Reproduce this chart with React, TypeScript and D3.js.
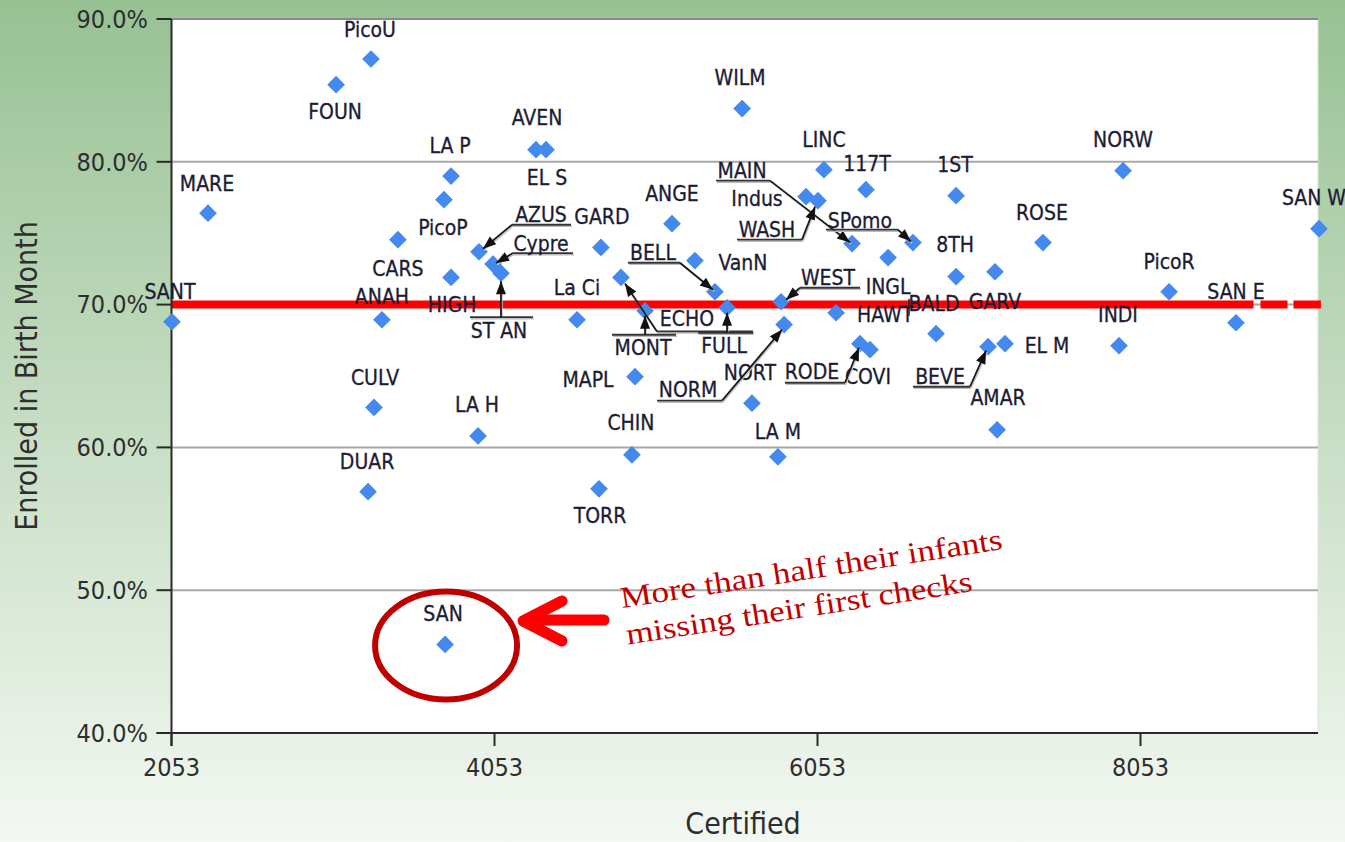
import React from 'react';
import * as d3 from 'd3';

// ---------------- data ----------------
const names = [
  'SANT', 'MARE', 'FOUN', 'PicoU', 'LA P', 'PicoP', 'CARS', 'ANAH', 'HIGH', 'CULV',
  'DUAR', 'LA H', 'SAN', 'AVEN', 'EL S', 'AZUS', 'Cypre', 'ST AN', 'La Ci', 'GARD',
  'ANGE', 'ECHO', 'MONT', 'BELL', 'FULL', 'VanN', 'WILM', 'MAPL', 'CHIN', 'TORR',
  'NORT', 'LA M', 'NORM', 'WEST', 'HAWT', 'INGL', 'LINC', '117T', 'MAIN', 'Indus',
  'WASH', 'SPomo', '8TH', '1ST', 'BALD', 'GARV', 'ROSE', 'NORW', 'PicoR', 'SAN E',
  'INDI', 'SAN W', 'EL M', 'BEVE', 'AMAR', 'RODE', 'COVI',
];
const certified = [
  2056, 2279, 3072, 3288, 3784, 3740, 3455, 3356, 3784, 3307,
  3270, 3951, 3747, 4310, 4372, 3957, 4044, 4093, 4564, 4712,
  5152, 4836, 4985, 5418, 5493, 5294, 5586, 4923, 4904, 4700,
  5647, 5808, 5846, 5827, 6168, 6490, 6093, 6353, 6267, 5982,
  6056, 6644, 6911, 6911, 6787, 7152, 7449, 7945, 8230, 8644,
  7920, 9158, 7214, 7109, 7165, 6316, 6378,
];
const enrolled = [
  68.8, 76.4, 85.4, 87.2, 79.0, 77.35, 74.55, 68.94, 71.9, 62.8,
  56.9, 60.8, 46.2, 80.85, 80.85, 73.7, 72.84, 72.2, 68.94, 74.0,
  75.67, 71.9, 69.57, 70.9, 69.78, 73.08, 83.73, 64.95, 59.48, 57.1,
  63.1, 59.34, 68.6, 70.2, 69.43, 73.29, 79.45, 78.05, 74.27, 77.56,
  77.28, 74.34, 71.96, 77.63, 67.96, 72.3, 74.34, 79.38, 70.9, 68.73,
  67.12, 75.32, 67.26, 67.05, 61.23, 67.26, 66.84,
];
const yTicks = [40, 50, 60, 70, 80, 90];
const xTicks = [2053, 4053, 6053, 8053];
const benchmark = 70;
const xDomain = [2053, 9152];
const yDomain = [40, 90];
const xTitle = 'Certified';
const yTitle = 'Enrolled in Birth Month';
const noteLines = ['More than half their infants', 'missing their first checks'];
const highlighted = 'SAN';

// ---------------- layout (pixel offsets of labels from their points) ----------------
const labelOffsets: Record<string, [number, number]> = {
  'SANT': [-2, -30], 'MARE': [-1, -30], 'FOUN': [-1, 27], 'PicoU': [-1, -30], 'LA P': [-1, -31],
  'PicoP': [-1, 28], 'CARS': [0, 29], 'ANAH': [0, -23], 'HIGH': [1, 27], 'CULV': [1, -30],
  'DUAR': [-1, -30], 'LA H': [-1, -32], 'SAN': [-2, -31], 'AVEN': [1, -32], 'EL S': [1, 28],
  'La Ci': [0, -32], 'GARD': [1, -31], 'ANGE': [0, -30], 'VanN': [48, 2], 'WILM': [-2, -31],
  'MAPL': [-47, 3], 'CHIN': [-1, -32], 'TORR': [1, 27], 'NORT': [-2, -31], 'LA M': [0, -25],
  'HAWT': [49, 2], 'INGL': [0, 29], 'LINC': [0, -30], '117T': [1, -26], 'Indus': [-49, 2],
  '1ST': [-1, -31], '8TH': [-1, -32], 'BALD': [-2, -30], 'GARV': [0, 30], 'ROSE': [-1, -30],
  'NORW': [0, -31], 'PicoR': [0, -30], 'SAN E': [0, -31], 'INDI': [-1, -31], 'SAN W': [-5, -31],
  'EL M': [42, 2], 'AMAR': [1, -32], 'COVI': [-2, 27],
};
type Callout = { label: [number, number]; uy: number; ux: [number, number]; start: [number, number]; tip: [number, number] };
const callouts: Record<string, Callout> = {
  'AZUS': { label: [62, -37], uy: -27, ux: [33, 92], start: [33, -27], tip: [4, -3] },
  'Cypre': { label: [48, -21], uy: -11, ux: [20, 80], start: [20, -11], tip: [3, -1] },
  'ST AN': { label: [-2, 57], uy: 44, ux: [-31, 32], start: [0, 44], tip: [0, 8] },
  'BELL': { label: [-62, -39], uy: -29, ux: [-87, -35], start: [-35, -29], tip: [-2, -2] },
  'ECHO': { label: [66, 41], uy: 54, ux: [36, 132], start: [36, 54], tip: [4, 6] },
  'MONT': { label: [-2, 37], uy: 24, ux: [-33, 31], start: [0, 24], tip: [0, 5] },
  'FULL': { label: [-3, 38], uy: 25, ux: [-29, 26], start: [0, 25], tip: [0, 5] },
  'NORM': { label: [-96, 65], uy: 76, ux: [-127, -62], start: [-62, 76], tip: [-2, 5] },
  'WEST': { label: [47, -24], uy: -14, ux: [19, 79], start: [19, -14], tip: [5, -2] },
  'MAIN': { label: [-110, -73], uy: -63, ux: [-136, -82], start: [-82, -63], tip: [-2, -1] },
  'WASH': { label: [-51, 29], uy: 39, ux: [-81, -16], start: [-16, 39], tip: [-3, 6] },
  'SPomo': { label: [-53, -22], uy: -13, ux: [-87, -15], start: [-15, -13], tip: [-2, -1] },
  'RODE': { label: [-48, 28], uy: 39, ux: [-75, -15], start: [-15, 39], tip: [-1, 4] },
  'BEVE': { label: [-48, 30], uy: 40, ux: [-75, -18], start: [-18, 40], tip: [-2, 4] },
};

const W = 1345;
const H = 842;
const plot = { left: 171.5, right: 1318, top: 19, bottom: 733 };
const labelFont = '"DejaVu Sans Condensed", "DejaVu Sans", sans-serif';
const LFS = 21;
const labelColor = '#1c1c34';

export default function App() {
  const x = d3.scaleLinear().domain(xDomain).range([plot.left, plot.right]);
  const y = d3.scaleLinear().domain(yDomain).range([plot.bottom, plot.top]);
  const diamond = d3.symbol().type(d3.symbolDiamond2).size(200)();

  const pts = names.map((n, i) => ({ name: n, px: x(certified[i]), py: y(enrolled[i]) }));
  const lineGen = d3.line<number>().x((d) => x(d)).y(() => y(benchmark));
  const redPath = lineGen([xDomain[0], 9170]) || '';
  const san = pts.find((p) => p.name === highlighted)!;

  return (
    <svg width={W} height={H} style={{ position: 'absolute', left: 0, top: 0, display: 'block' }}>
      <defs>
        <linearGradient id="bg" x1="0" y1="0" x2="0" y2="1">
          <stop offset="0" stopColor="#97c193" />
          <stop offset="0.5" stopColor="#c6ddc3" />
          <stop offset="1" stopColor="#f3f8f2" />
        </linearGradient>
        <marker id="ah" viewBox="-1 -6 15 12" refX="13" refY="0" markerWidth="15" markerHeight="12"
          markerUnits="userSpaceOnUse" orient="auto">
          <path d="M0,-5 L13,0 L0,5 Z" fill="#111" />
        </marker>
      </defs>
      <rect x={0} y={0} width={W} height={H} fill="url(#bg)" />
      <rect x={plot.left} y={plot.top} width={plot.right - plot.left} height={plot.bottom - plot.top} fill="#fff" />
      <line x1={plot.right} x2={plot.right} y1={plot.top} y2={plot.bottom} stroke="#d8e6d6" strokeWidth={1} />

      {/* gridlines */}
      {yTicks.filter((t) => t > yDomain[0]).map((t) => (
        <line key={'g' + t} x1={plot.left} x2={plot.right} y1={y(t)} y2={y(t)}
          stroke={t === yDomain[1] ? '#8a8a8a' : '#a8a8a8'} strokeWidth={2} />
      ))}

      {/* benchmark line */}
      <path d={redPath} stroke="#ff0000" strokeWidth={8} fill="none" strokeDasharray="1082 7 27 6 40" />

      {/* axes */}
      <line x1={plot.left} x2={plot.left} y1={plot.top} y2={plot.bottom + 13} stroke="#2a2a2a" strokeWidth={2} />
      <line x1={plot.left - 15} x2={plot.right} y1={plot.bottom} y2={plot.bottom} stroke="#2a2a2a" strokeWidth={2} />
      {yTicks.map((t) => (
        <g key={'yt' + t}>
          <line x1={plot.left - 15} x2={plot.left} y1={y(t)} y2={y(t)} stroke="#2a2a2a" strokeWidth={2} />
          <text x={148} y={y(t) + 8.8} textAnchor="end" fontFamily={labelFont} fontSize={25} fill="#2e2e2e">
            {d3.format('.1f')(t) + '%'}
          </text>
        </g>
      ))}
      {xTicks.map((t) => (
        <g key={'xt' + t}>
          <line x1={x(t)} x2={x(t)} y1={plot.bottom} y2={plot.bottom + 13} stroke="#2a2a2a" strokeWidth={2} />
          <text x={x(t)} y={776} textAnchor="middle" fontFamily={labelFont} fontSize={25} fill="#2e2e2e">{t}</text>
        </g>
      ))}
      <text x={743} y={834} textAnchor="middle" fontFamily={labelFont} fontSize={30} fill="#2e2e2e">{xTitle}</text>
      <text transform={`translate(37,376) rotate(-90)`} textAnchor="middle" fontFamily={labelFont} fontSize={30} fill="#2e2e2e">{yTitle}</text>

      {/* points */}
      {pts.map((p) => (
        <path key={'p' + p.name} d={diamond} transform={`translate(${p.px},${p.py})`} fill="#4489ee" />
      ))}

      {/* plain labels */}
      {pts.filter((p) => labelOffsets[p.name]).map((p) => {
        const [dx, dy] = labelOffsets[p.name];
        return (
          <text key={'l' + p.name} x={p.px + dx} y={p.py + dy + LFS * 0.36} textAnchor="middle"
            fontFamily={labelFont} fontSize={LFS} fill={labelColor} stroke={labelColor} strokeWidth={0.3}>{p.name}</text>
        );
      })}

      {/* callout labels */}
      {pts.filter((p) => callouts[p.name]).map((p) => {
        const c = callouts[p.name];
        const sx = p.px + c.start[0], sy = p.py + c.start[1];
        const tx = p.px + c.tip[0], ty = p.py + c.tip[1];
        return (
          <g key={'c' + p.name}>
            <line x1={p.px + c.ux[0] + 1} x2={p.px + c.ux[1] + 1} y1={p.py + c.uy + 1.6} y2={p.py + c.uy + 1.6} stroke="#bbb" strokeWidth={1.5} />
            <line x1={sx + 1} y1={sy + 1.5} x2={tx + 1} y2={ty + 1.5} stroke="#c4c4c4" strokeWidth={1.5} />
            <line x1={p.px + c.ux[0]} x2={p.px + c.ux[1]} y1={p.py + c.uy} y2={p.py + c.uy} stroke="#333" strokeWidth={1.8} />
            <line x1={sx} y1={sy} x2={tx} y2={ty} stroke="#1a1a1a" strokeWidth={1.8} markerEnd="url(#ah)" />
            <text x={p.px + c.label[0]} y={p.py + c.label[1] + LFS * 0.36} textAnchor="middle"
              fontFamily={labelFont} fontSize={LFS} fill={labelColor} stroke={labelColor} strokeWidth={0.3}>{p.name}</text>
          </g>
        );
      })}
      {/* small leader near BALD */}
      {(() => {
        const b = pts.find((p) => p.name === 'BALD')!;
        return <line x1={b.px - 27} x2={b.px - 27} y1={b.py - 35} y2={b.py - 18} stroke="#222" strokeWidth={1.5} />;
      })()}

      {/* annotation */}
      <ellipse cx={san.px + 1} cy={san.py + 1} rx={71} ry={54} fill="none" stroke="#c00000" strokeWidth={6} />
      <g stroke="#ff0000" strokeWidth={11} strokeLinecap="round" fill="none">
        <line x1={604} y1={620} x2={530} y2={620} />
        <polyline points="562,601 523,621 562,641" strokeLinejoin="round" />
      </g>
      <g transform="translate(622,608) rotate(-8.8)" fontFamily='"Liberation Serif", "DejaVu Serif", serif' fontSize={30} fill="#c00000">
        <text x={0} y={0} textLength={386} lengthAdjust="spacingAndGlyphs">{noteLines[0]}</text>
        <text x={0} y={37} textLength={350} lengthAdjust="spacingAndGlyphs">{noteLines[1]}</text>
      </g>
    </svg>
  );
}
